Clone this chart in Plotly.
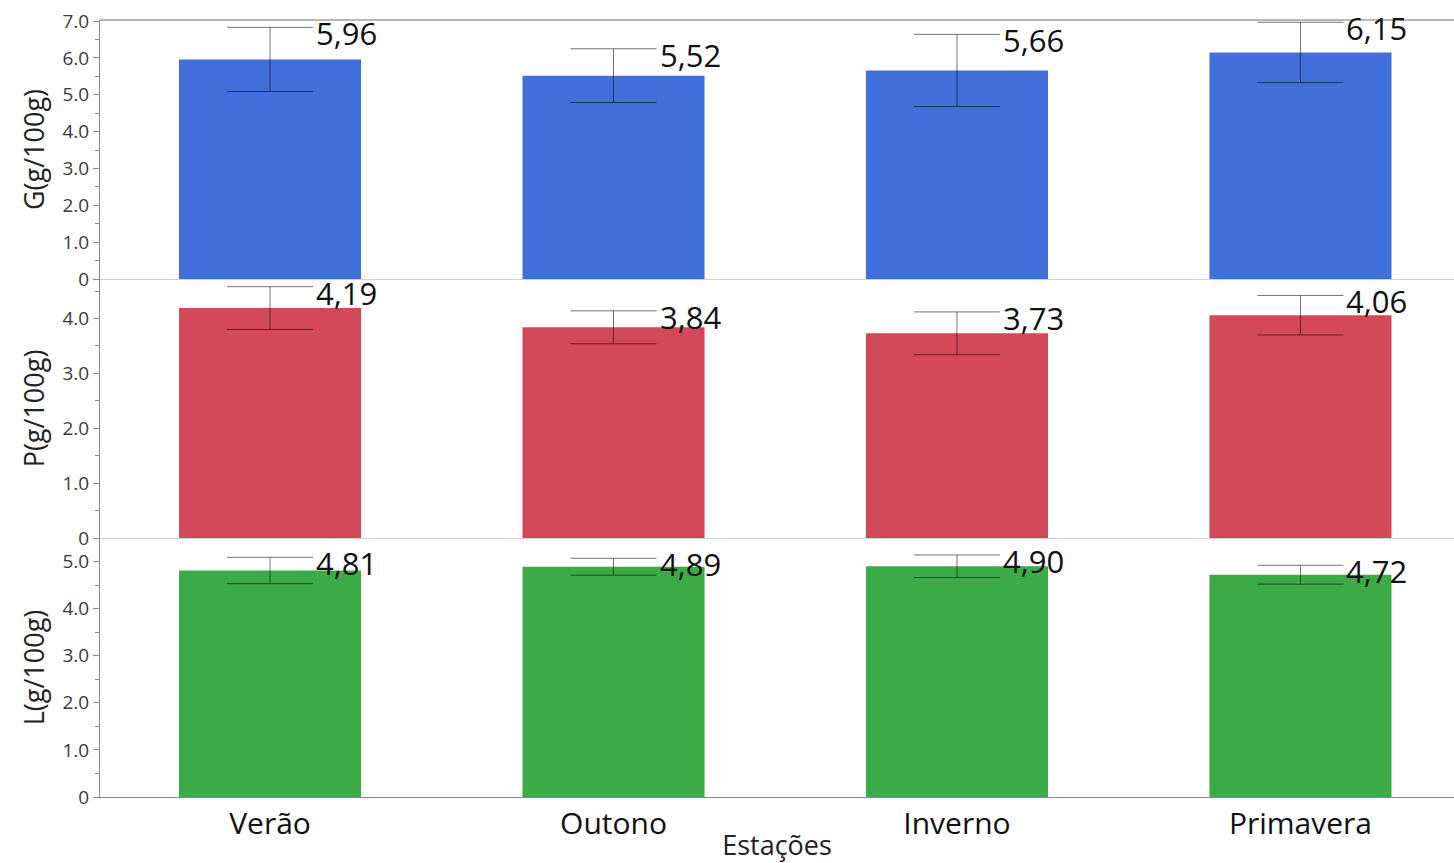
import plotly.graph_objects as go
from plotly.subplots import make_subplots

# Estações do ano
categories = ["Verão", "Outono", "Inverno", "Primavera"]

# G (g/100g)
g_values = [5.96, 5.52, 5.66, 6.15]
g_errors = [0.87, 0.73, 0.98, 0.82]

# P (g/100g)
p_values = [4.19, 3.84, 3.73, 4.06]
p_errors = [0.39, 0.30, 0.39, 0.36]

# L (g/100g)
l_values = [4.81, 4.89, 4.90, 4.72]
l_errors = [0.28, 0.18, 0.24, 0.20]

y_titles = ["G(g/100g)", "P(g/100g)", "L(g/100g)"]
y_ranges = [[0, 7.03], [0, 4.72], [0, 5.5]]
y_ticks = [
    [0, 1, 2, 3, 4, 5, 6, 7],
    [0, 1, 2, 3, 4],
    [0, 1, 2, 3, 4, 5],
]

panels = [
    (g_values, g_errors, "#4170DA"),
    (p_values, p_errors, "#D24A5A"),
    (l_values, l_errors, "#3DAA48"),
]

fig = make_subplots(rows=3, cols=1, shared_xaxes=True, vertical_spacing=0)

LABEL_FONT = "Open Sans, Noto Sans, sans-serif"

for i, (vals, errs, color) in enumerate(panels, start=1):
    fig.add_trace(
        go.Bar(
            x=categories,
            y=vals,
            width=0.53,
            marker=dict(color=color, line=dict(width=0)),
            error_y=dict(
                type="data",
                array=errs,
                visible=True,
                color="rgba(0,0,0,0.55)",
                thickness=1,
                width=43,
            ),
            showlegend=False,
        ),
        row=i,
        col=1,
    )
    xref = "x" if i == 1 else f"x{i}"
    yref = "y" if i == 1 else f"y{i}"
    for cat, v, e in zip(categories, vals, errs):
        fig.add_annotation(
            x=cat,
            y=v + e,
            xref=xref,
            yref=yref,
            text=f"{v:.2f}".replace(".", ","),
            showarrow=False,
            xanchor="left",
            yanchor="middle",
            xshift=44,
            yshift=-6,
            font=dict(family=LABEL_FONT, size=31, color="#111111"),
        )

    ticks = y_ticks[i - 1]
    fig.update_yaxes(
        range=y_ranges[i - 1],
        tickvals=ticks,
        ticktext=["0" if t == 0 else f"{t:.1f}" for t in ticks],
        ticks="outside",
        ticklen=6,
        tickcolor="#888888",
        minor=dict(dtick=0.5, ticks="outside", ticklen=4, tickcolor="#888888"),
        showline=True,
        linecolor="#888888",
        linewidth=1,
        showgrid=False,
        zeroline=False,
        tickfont=dict(family=LABEL_FONT, size=19, color="#3A3A3A"),
        title=dict(
            text=y_titles[i - 1],
            font=dict(family=LABEL_FONT, size=27, color="#222222"),
            standoff=10,
        ),
        fixedrange=True,
        row=i,
        col=1,
    )
    fig.update_xaxes(
        range=[-0.495, 3.447],
        showline=True,
        linecolor="#888888" if i == 3 else "#D0D0D0",
        linewidth=1,
        showgrid=False,
        zeroline=False,
        ticks="",
        row=i,
        col=1,
    )

fig.update_xaxes(
    tickfont=dict(family=LABEL_FONT, size=30, color="#111111"),
    title=dict(
        text="Estações",
        font=dict(family=LABEL_FONT, size=27, color="#222222"),
        standoff=2,
    ),
    row=3,
    col=1,
)

# top border of the upper panel
fig.add_shape(
    type="line",
    xref="paper",
    yref="paper",
    x0=0,
    x1=1,
    y0=1,
    y1=1,
    line=dict(color="#A0A0A0", width=1.5),
)

fig.update_layout(
    width=1454,
    height=863,
    margin=dict(l=100, r=0, t=20, b=66),
    paper_bgcolor="white",
    plot_bgcolor="white",
    bargap=0.47,
)

fig.write_html("out.html", include_plotlyjs=True, config={"displayModeBar": False})
